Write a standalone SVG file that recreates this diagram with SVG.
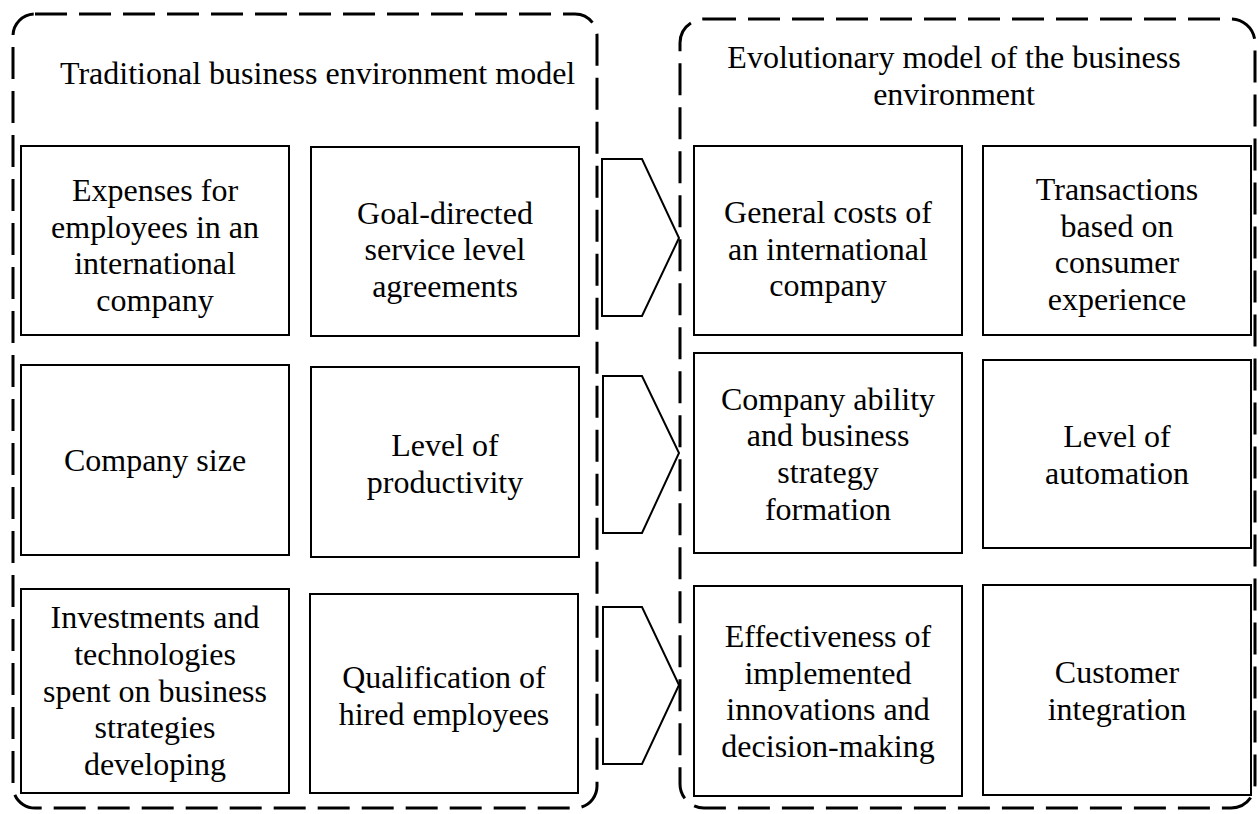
<svg xmlns="http://www.w3.org/2000/svg" width="1258" height="814" viewBox="0 0 1258 814">
<style>
  .container { fill: none; stroke: #000; stroke-width: 3; stroke-dasharray: 32 12; }
  .box { fill: #fff; stroke: #000; stroke-width: 2; }
  .arrow { fill: #fff; stroke: #000; stroke-width: 2; stroke-linejoin: miter; }
  text { font-family: "Liberation Serif", "Times New Roman", serif; font-size: 32px; fill: #000; }
  .c { text-anchor: middle; }
</style>
<rect width="1258" height="814" fill="#fff"/>

<g id="container-traditional">
  <rect class="container" x="13" y="14" width="584" height="794" rx="22" ry="22"/>
  <text x="60" y="84">Traditional business environment model</text>
</g>
<g id="container-evolutionary">
  <rect class="container" x="680" y="19" width="575" height="789" rx="24" ry="24"/>
  <text class="c" x="954" y="68">Evolutionary model of the business</text>
  <text class="c" x="954" y="105">environment</text>
</g>

<g id="connectors">
  <polygon class="arrow" points="602,159 642,159 679,238 642,316 602,316"/>
  <polygon class="arrow" points="603,376 642,376 679,453 642,533 603,533"/>
  <polygon class="arrow" points="603,607 642,607 679,685 642,764 603,764"/>
</g>

<g id="node-expenses">
  <rect class="box" x="21" y="146" width="268" height="189"/>
  <text class="c" x="155" y="201">Expenses for</text>
  <text class="c" x="155" y="238">employees in an</text>
  <text class="c" x="155" y="274">international</text>
  <text class="c" x="155" y="311">company</text>
</g>
<g id="node-goal-directed">
  <rect class="box" x="311" y="147" width="268" height="189"/>
  <text class="c" x="445" y="224">Goal-directed</text>
  <text class="c" x="445" y="260">service level</text>
  <text class="c" x="445" y="297">agreements</text>
</g>
<g id="node-company-size">
  <rect class="box" x="21" y="365" width="268" height="190"/>
  <text class="c" x="155" y="471">Company size</text>
</g>
<g id="node-productivity">
  <rect class="box" x="311" y="367" width="268" height="190"/>
  <text class="c" x="445" y="456">Level of</text>
  <text class="c" x="445" y="493">productivity</text>
</g>
<g id="node-investments">
  <rect class="box" x="21" y="589" width="268" height="204"/>
  <text class="c" x="155" y="628">Investments and</text>
  <text class="c" x="155" y="665">technologies</text>
  <text class="c" x="155" y="702">spent on business</text>
  <text class="c" x="155" y="738">strategies</text>
  <text class="c" x="155" y="775">developing</text>
</g>
<g id="node-qualification">
  <rect class="box" x="310" y="594" width="268" height="199"/>
  <text class="c" x="444" y="688">Qualification of</text>
  <text class="c" x="444" y="725">hired employees</text>
</g>

<g id="node-general-costs">
  <rect class="box" x="694" y="146" width="268" height="189"/>
  <text class="c" x="828" y="223">General costs of</text>
  <text class="c" x="828" y="260">an international</text>
  <text class="c" x="828" y="296">company</text>
</g>
<g id="node-transactions">
  <rect class="box" x="983" y="146" width="268" height="189"/>
  <text class="c" x="1117" y="200">Transactions</text>
  <text class="c" x="1117" y="237">based on</text>
  <text class="c" x="1117" y="273">consumer</text>
  <text class="c" x="1117" y="310">experience</text>
</g>
<g id="node-company-ability">
  <rect class="box" x="694" y="353" width="268" height="200"/>
  <text class="c" x="828" y="410">Company ability</text>
  <text class="c" x="828" y="446">and business</text>
  <text class="c" x="828" y="483">strategy</text>
  <text class="c" x="828" y="520">formation</text>
</g>
<g id="node-automation">
  <rect class="box" x="983" y="360" width="268" height="188"/>
  <text class="c" x="1117" y="447">Level of</text>
  <text class="c" x="1117" y="484">automation</text>
</g>
<g id="node-effectiveness">
  <rect class="box" x="694" y="586" width="268" height="210"/>
  <text class="c" x="828" y="647">Effectiveness of</text>
  <text class="c" x="828" y="684">implemented</text>
  <text class="c" x="828" y="720">innovations and</text>
  <text class="c" x="828" y="757">decision-making</text>
</g>
<g id="node-customer">
  <rect class="box" x="983" y="585" width="268" height="210"/>
  <text class="c" x="1117" y="683">Customer</text>
  <text class="c" x="1117" y="720">integration</text>
</g>
</svg>
